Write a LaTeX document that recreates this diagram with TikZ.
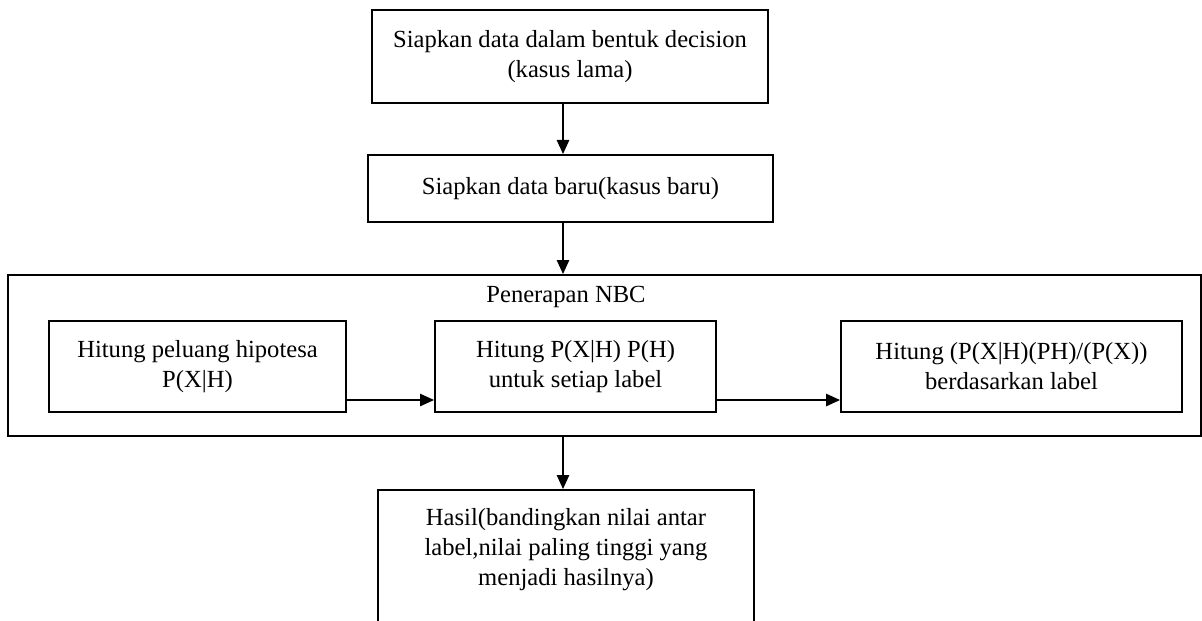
\documentclass[tikz,border=0pt]{standalone}
\usepackage{fontspec}
\setmainfont{Liberation Serif}
\usepackage{tikz}
\usetikzlibrary{arrows.meta, positioning}

\begin{document}
\begin{tikzpicture}[
  x=0.02cm, y=-0.02cm,
  box/.style={draw, line width=1.1pt, align=center, inner sep=0pt, font=\fontsize{14}{17}\selectfont},
  frame/.style={draw, line width=1.1pt, inner sep=0pt},
  arrow/.style={-{Triangle[length=8pt, width=7pt]}, line width=1.1pt},
]
\useasboundingbox (0,0) rectangle (1202,620);

% Nodes
\node[box, minimum width=7.92cm, minimum height=1.86cm] (lama) at (570,56.5) {Siapkan data dalam bentuk decision\\(kasus lama)};
\node[box, minimum width=8.1cm, minimum height=1.34cm] (baru) at (570.5,188.5) {Siapkan data baru(kasus baru)};

% Penerapan NBC
\node[frame, minimum width=23.86cm, minimum height=3.22cm] (nbc) at (604.5,355.5) {};
\node[font=\fontsize{14}{17}\selectfont, inner sep=0pt] (nbctitle) at (566,297) {Penerapan NBC};
\node[box, minimum width=5.94cm, minimum height=1.82cm] (peluang) at (197.5,366.5) {Hitung peluang hipotesa\\P(X|H)};
\node[box, minimum width=5.62cm, minimum height=1.82cm] (prior) at (575.5,366.5) {Hitung P(X|H) P(H)\\untuk setiap label};
\node[box, minimum width=6.82cm, minimum height=1.82cm] (posterior) at (1011.5,366.5) {Hitung (P(X|H)(PH)/(P(X))\\berdasarkan label};

\node[box, minimum width=7.52cm, minimum height=3.04cm] (hasil) at (566,566) {Hasil(bandingkan nilai antar\\label,nilai paling tinggi yang\\menjadi hasilnya)\\\strut};

% helper coordinates
\coordinate (axis) at (563,0);
\coordinate (lane) at (0,400);

% Arrows
\draw[arrow] (lama.south -| axis) -- (baru.north -| axis);
\draw[arrow] (baru.south -| axis) -- (nbc.north -| axis);
\draw[arrow] (peluang.east |- lane) -- (prior.west |- lane);
\draw[arrow] (prior.east |- lane) -- (posterior.west |- lane);
\draw[arrow] (nbc.south -| axis) -- (hasil.north -| axis);

\end{tikzpicture}
\end{document}
